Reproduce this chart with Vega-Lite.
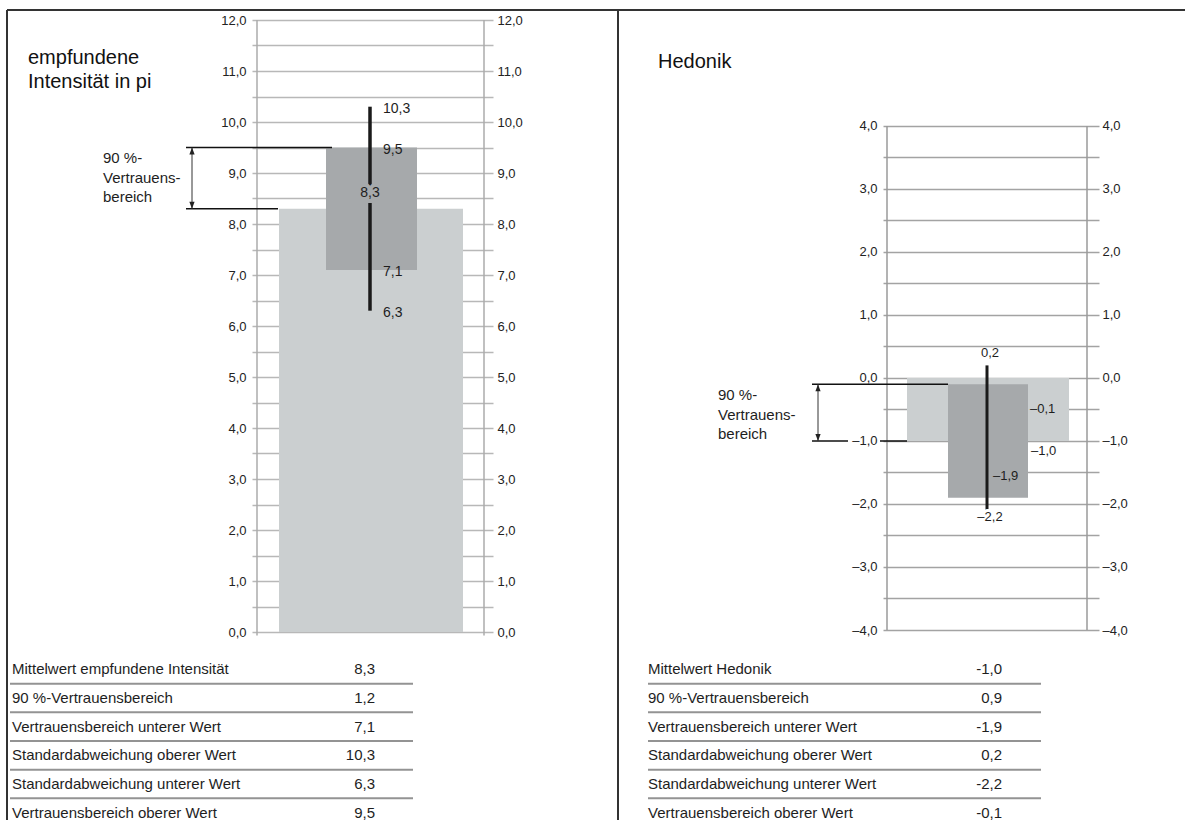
{
  "$schema": "https://vega.github.io/schema/vega-lite/v6.json",
  "background": "white",
  "padding": {"left": 6, "top": 9, "right": 0, "bottom": 0},
  "autosize": {"type": "pad"},
  "config": {
    "font": "Liberation Sans",
    "view": {"stroke": null},
    "locale": {"number": {"decimal": ",", "thousands": ".", "grouping": [3], "currency": ["", " €"], "minus": "–"}},
    "text": {"font": "Liberation Sans", "color": "#1e1e1e"}
  },
  "datasets": {
    "intensitaet": [
      {"nr": 1, "key": "mw", "kennwert": "Mittelwert empfundene Intensität", "wert": 8.3},
      {"nr": 2, "key": "vb", "kennwert": "90 %-Vertrauensbereich", "wert": 1.2},
      {"nr": 3, "key": "vbu", "kennwert": "Vertrauensbereich unterer Wert", "wert": 7.1},
      {"nr": 4, "key": "sdo", "kennwert": "Standardabweichung oberer Wert", "wert": 10.3},
      {"nr": 5, "key": "sdu", "kennwert": "Standardabweichung unterer Wert", "wert": 6.3},
      {"nr": 6, "key": "vbo", "kennwert": "Vertrauensbereich oberer Wert", "wert": 9.5}
    ],
    "hedonik": [
      {"nr": 1, "key": "mw", "kennwert": "Mittelwert Hedonik", "wert": -1.0},
      {"nr": 2, "key": "vb", "kennwert": "90 %-Vertrauensbereich", "wert": 0.9},
      {"nr": 3, "key": "vbu", "kennwert": "Vertrauensbereich unterer Wert", "wert": -1.9},
      {"nr": 4, "key": "sdo", "kennwert": "Standardabweichung oberer Wert", "wert": 0.2},
      {"nr": 5, "key": "sdu", "kennwert": "Standardabweichung unterer Wert", "wert": -2.2},
      {"nr": 6, "key": "vbo", "kennwert": "Vertrauensbereich oberer Wert", "wert": -0.1}
    ]
  },
  "columns": 2,
  "bounds": "flush",
  "align": "each",
  "spacing": {"row": 23, "column": 390},
  "resolve": {"scale": {"x": "independent", "y": "independent"}},
  "concat": [
    {
      "width": 241,
      "height": 612,
      "resolve": {"axis": {"y": "independent"}},
      "layer": [
        {
          "data": {"name": "intensitaet"},
          "transform": [{"pivot": "key", "value": "wert"}],
          "mark": {"type": "rect", "color": "#cbcfd0"},
          "encoding": {
            "x": {"datum": -0.91, "type": "quantitative", "scale": {"domain": [-1.18, 1.23], "nice": false, "zero": false}, "axis": null},
            "x2": {"datum": 0.93},
            "y": {"field": "mw", "type": "quantitative", "scale": {"domain": [0, 12], "nice": false, "zero": false},
              "axis": {"orient": "left", "title": null, "values": [0, 0.5, 1, 1.5, 2, 2.5, 3, 3.5, 4, 4.5, 5, 5.5, 6, 6.5, 7, 7.5, 8, 8.5, 9, 9.5, 10, 10.5, 11, 11.5, 12],
                "format": ".1f", "labelExpr": "datum.value % 1 === 0 ? datum.label : ''", "grid": true, "gridColor": "#b8b8b8", "gridWidth": 1.3,
                "domain": false, "ticks": false, "tickSize": 0, "labelPadding": 6, "labelFontSize": 13, "labelColor": "#222", "labelFont": "Liberation Sans", "labelOverlap": false}},
            "y2": {"datum": 0}
          }
        },
        {
          "data": {"name": "intensitaet"},
          "transform": [{"pivot": "key", "value": "wert"}],
          "mark": {"type": "rect", "color": "#a6a9ab"},
          "encoding": {
            "x": {"datum": -0.44, "type": "quantitative", "scale": {"domain": [-1.18, 1.23], "nice": false, "zero": false}, "axis": null},
            "x2": {"datum": 0.47},
            "y": {"field": "vbo", "type": "quantitative", "scale": {"domain": [0, 12], "nice": false, "zero": false},
              "axis": {"orient": "right", "title": null, "values": [0, 0.5, 1, 1.5, 2, 2.5, 3, 3.5, 4, 4.5, 5, 5.5, 6, 6.5, 7, 7.5, 8, 8.5, 9, 9.5, 10, 10.5, 11, 11.5, 12],
                "format": ".1f", "labelExpr": "datum.value % 1 === 0 ? datum.label : ''", "grid": false,
                "domain": false, "ticks": false, "tickSize": 0, "labelPadding": 4, "labelFontSize": 13, "labelColor": "#222", "labelFont": "Liberation Sans", "labelOverlap": false}},
            "y2": {"field": "vbu"}
          }
        },
        {
          "data": {"values": [{}]},
          "mark": {"type": "rule", "color": "#ababab", "strokeWidth": 1.5},
          "encoding": {
            "x": {"datum": -1.13, "type": "quantitative", "scale": {"domain": [-1.18, 1.23], "nice": false, "zero": false}, "axis": null},
            "y": {"datum": 12, "type": "quantitative", "scale": {"domain": [0, 12], "nice": false, "zero": false}, "axis": null},
            "y2": {"datum": -0.07}
          }
        },
        {
          "data": {"values": [{}]},
          "mark": {"type": "rule", "color": "#ababab", "strokeWidth": 1.5},
          "encoding": {
            "x": {"datum": 1.14, "type": "quantitative", "scale": {"domain": [-1.18, 1.23], "nice": false, "zero": false}, "axis": null},
            "y": {"datum": 12, "type": "quantitative", "scale": {"domain": [0, 12], "nice": false, "zero": false}, "axis": null},
            "y2": {"datum": -0.07}
          }
        },
        {
          "data": {"name": "intensitaet"},
          "transform": [{"pivot": "key", "value": "wert"}],
          "mark": {"type": "rule", "color": "#1a1a1a", "strokeWidth": 3.5},
          "encoding": {
            "x": {"datum": 0, "type": "quantitative", "scale": {"domain": [-1.18, 1.23], "nice": false, "zero": false}, "axis": null},
            "y": {"field": "sdo", "type": "quantitative", "scale": {"domain": [0, 12], "nice": false, "zero": false}, "axis": null},
            "y2": {"field": "sdu"}
          }
        },
        {
          "data": {"name": "intensitaet"},
          "transform": [{"filter": {"field": "key", "oneOf": ["sdo", "vbo", "vbu", "sdu"]}}],
          "mark": {"type": "text", "align": "left", "baseline": "middle", "fontSize": 14, "dy": 2},
          "encoding": {
            "x": {"datum": 0.13, "type": "quantitative", "scale": {"domain": [-1.18, 1.23], "nice": false, "zero": false}, "axis": null},
            "y": {"field": "wert", "type": "quantitative", "scale": {"domain": [0, 12], "nice": false, "zero": false}, "axis": null},
            "text": {"field": "wert", "type": "quantitative", "format": ".1f"}
          }
        },
        {
          "data": {"name": "intensitaet"},
          "transform": [{"filter": {"field": "key", "equal": "mw"}}],
          "mark": {"type": "text", "align": "center", "baseline": "middle", "fontSize": 14, "dy": -16, "fill": "#a6a9ab", "stroke": "#a6a9ab", "strokeWidth": 8},
          "encoding": {
            "x": {"datum": 0, "type": "quantitative", "scale": {"domain": [-1.18, 1.23], "nice": false, "zero": false}, "axis": null},
            "y": {"field": "wert", "type": "quantitative", "scale": {"domain": [0, 12], "nice": false, "zero": false}, "axis": null},
            "text": {"field": "wert", "type": "quantitative", "format": ".1f"}
          }
        },
        {
          "data": {"name": "intensitaet"},
          "transform": [{"filter": {"field": "key", "equal": "mw"}}],
          "mark": {"type": "text", "align": "center", "baseline": "middle", "fontSize": 14, "dy": -16},
          "encoding": {
            "x": {"datum": 0, "type": "quantitative", "scale": {"domain": [-1.18, 1.23], "nice": false, "zero": false}, "axis": null},
            "y": {"field": "wert", "type": "quantitative", "scale": {"domain": [0, 12], "nice": false, "zero": false}, "axis": null},
            "text": {"field": "wert", "type": "quantitative", "format": ".1f"}
          }
        },
        {
          "data": {"name": "intensitaet"},
          "transform": [{"pivot": "key", "value": "wert"}],
          "mark": {"type": "rule", "color": "#111", "strokeWidth": 1.5},
          "encoding": {
            "x": {"datum": -1.84, "type": "quantitative", "scale": {"domain": [-1.18, 1.23], "nice": false, "zero": false}, "axis": null},
            "x2": {"datum": -0.38},
            "y": {"field": "vbo", "type": "quantitative", "scale": {"domain": [0, 12], "nice": false, "zero": false}, "axis": null}
          }
        },
        {
          "data": {"name": "intensitaet"},
          "transform": [{"pivot": "key", "value": "wert"}],
          "mark": {"type": "rule", "color": "#111", "strokeWidth": 1.5},
          "encoding": {
            "x": {"datum": -1.84, "type": "quantitative", "scale": {"domain": [-1.18, 1.23], "nice": false, "zero": false}, "axis": null},
            "x2": {"datum": -0.92},
            "y": {"field": "mw", "type": "quantitative", "scale": {"domain": [0, 12], "nice": false, "zero": false}, "axis": null}
          }
        },
        {
          "data": {"name": "intensitaet"},
          "transform": [{"pivot": "key", "value": "wert"}],
          "mark": {"type": "rule", "color": "#333", "strokeWidth": 1},
          "encoding": {
            "x": {"datum": -1.78, "type": "quantitative", "scale": {"domain": [-1.18, 1.23], "nice": false, "zero": false}, "axis": null},
            "y": {"field": "vbo", "type": "quantitative", "scale": {"domain": [0, 12], "nice": false, "zero": false}, "axis": null},
            "y2": {"field": "mw"}
          }
        },
        {
          "data": {"name": "intensitaet"},
          "transform": [{"pivot": "key", "value": "wert"}],
          "mark": {"type": "point", "filled": true, "color": "#222", "opacity": 1, "size": 136, "strokeWidth": 0, "shape": "M0,0L-0.45,1.2L0.45,1.2Z"},
          "encoding": {
            "x": {"datum": -1.78, "type": "quantitative", "scale": {"domain": [-1.18, 1.23], "nice": false, "zero": false}, "axis": null},
            "y": {"field": "vbo", "type": "quantitative", "scale": {"domain": [0, 12], "nice": false, "zero": false}, "axis": null}
          }
        },
        {
          "data": {"name": "intensitaet"},
          "transform": [{"pivot": "key", "value": "wert"}],
          "mark": {"type": "point", "filled": true, "color": "#222", "opacity": 1, "size": 136, "strokeWidth": 0, "shape": "M0,0L-0.45,-1.2L0.45,-1.2Z"},
          "encoding": {
            "x": {"datum": -1.78, "type": "quantitative", "scale": {"domain": [-1.18, 1.23], "nice": false, "zero": false}, "axis": null},
            "y": {"field": "mw", "type": "quantitative", "scale": {"domain": [0, 12], "nice": false, "zero": false}, "axis": null}
          }
        },
        {
          "data": {"values": [{}]},
          "mark": {"type": "text", "align": "left", "baseline": "middle", "fontSize": 15, "lineHeight": 19.5, "text": ["90 %-", "Vertrauens-", "bereich"]},
          "encoding": {
            "x": {"datum": -2.67, "type": "quantitative", "scale": {"domain": [-1.18, 1.23], "nice": false, "zero": false}, "axis": null},
            "y": {"datum": 9.29, "type": "quantitative", "scale": {"domain": [0, 12], "nice": false, "zero": false}, "axis": null}
          }
        },
        {
          "data": {"values": [{}]},
          "mark": {"type": "text", "align": "left", "baseline": "middle", "fontSize": 20, "lineHeight": 24, "color": "#111", "text": ["empfundene", "Intensität in pi"]},
          "encoding": {
            "x": {"datum": -3.42, "type": "quantitative", "scale": {"domain": [-1.18, 1.23], "nice": false, "zero": false}, "axis": null},
            "y": {"datum": 11.26, "type": "quantitative", "scale": {"domain": [0, 12], "nice": false, "zero": false}, "axis": null}
          }
        },
        {
          "data": {"values": [{}]},
          "mark": {"type": "rule", "color": "#333", "strokeWidth": 2},
          "encoding": {
            "x": {"datum": -3.63, "type": "quantitative", "scale": {"domain": [-1.18, 1.23], "nice": false, "zero": false}, "axis": null},
            "x2": {"datum": 2.48},
            "y": {"datum": 12.196, "type": "quantitative", "scale": {"domain": [0, 12], "nice": false, "zero": false}, "axis": null}
          }
        },
        {
          "data": {"values": [{}]},
          "mark": {"type": "rule", "color": "#333", "strokeWidth": 2},
          "encoding": {
            "x": {"datum": -3.63, "type": "quantitative", "scale": {"domain": [-1.18, 1.23], "nice": false, "zero": false}, "axis": null},
            "y": {"datum": 12.196, "type": "quantitative", "scale": {"domain": [0, 12], "nice": false, "zero": false}, "axis": null},
            "y2": {"datum": -3.69}
          }
        },
        {
          "data": {"values": [{}]},
          "mark": {"type": "rule", "color": "#333", "strokeWidth": 2},
          "encoding": {
            "x": {"datum": 2.48, "type": "quantitative", "scale": {"domain": [-1.18, 1.23], "nice": false, "zero": false}, "axis": null},
            "y": {"datum": 12.196, "type": "quantitative", "scale": {"domain": [0, 12], "nice": false, "zero": false}, "axis": null},
            "y2": {"datum": -3.69}
          }
        }
      ]
    },
    {
      "width": 216,
      "height": 610,
      "resolve": {"axis": {"y": "independent"}},
      "layer": [
        {
          "data": {"name": "hedonik"},
          "transform": [{"pivot": "key", "value": "wert"}],
          "mark": {"type": "rect", "color": "#cbcfd0"},
          "encoding": {
            "x": {"datum": -0.8, "type": "quantitative", "scale": {"domain": [-1.04, 1.12], "nice": false, "zero": false}, "axis": null},
            "x2": {"datum": 0.82},
            "y": {"field": "mw", "type": "quantitative", "scale": {"domain": [-4, 5.6825], "nice": false, "zero": false},
              "axis": {"orient": "left", "title": null, "values": [-4, -3.5, -3, -2.5, -2, -1.5, -1, -0.5, 0, 0.5, 1, 1.5, 2, 2.5, 3, 3.5, 4],
                "format": ".1f", "labelExpr": "datum.value % 1 === 0 ? datum.label : ''", "grid": true, "gridColor": "#a3a3a3", "gridWidth": 1.5,
                "domain": false, "ticks": false, "tickSize": 0, "labelPadding": 6, "labelFontSize": 13, "labelColor": "#222", "labelFont": "Liberation Sans", "labelOverlap": false}},
            "y2": {"datum": 0}
          }
        },
        {
          "data": {"name": "hedonik"},
          "transform": [{"pivot": "key", "value": "wert"}],
          "mark": {"type": "rect", "color": "#a6a9ab"},
          "encoding": {
            "x": {"datum": -0.39, "type": "quantitative", "scale": {"domain": [-1.04, 1.12], "nice": false, "zero": false}, "axis": null},
            "x2": {"datum": 0.41},
            "y": {"field": "vbo", "type": "quantitative", "scale": {"domain": [-4, 5.6825], "nice": false, "zero": false},
              "axis": {"orient": "right", "title": null, "values": [-4, -3.5, -3, -2.5, -2, -1.5, -1, -0.5, 0, 0.5, 1, 1.5, 2, 2.5, 3, 3.5, 4],
                "format": ".1f", "labelExpr": "datum.value % 1 === 0 ? datum.label : ''", "grid": false,
                "domain": false, "ticks": false, "tickSize": 0, "labelPadding": 3, "labelFontSize": 13, "labelColor": "#222", "labelFont": "Liberation Sans", "labelOverlap": false}},
            "y2": {"field": "vbu"}
          }
        },
        {
          "data": {"values": [{}]},
          "mark": {"type": "rule", "color": "#9a9a9a", "strokeWidth": 1.5},
          "encoding": {
            "x": {"datum": -1.0, "type": "quantitative", "scale": {"domain": [-1.04, 1.12], "nice": false, "zero": false}, "axis": null},
            "y": {"datum": 4, "type": "quantitative", "scale": {"domain": [-4, 5.6825], "nice": false, "zero": false}, "axis": null},
            "y2": {"datum": -4}
          }
        },
        {
          "data": {"values": [{}]},
          "mark": {"type": "rule", "color": "#9a9a9a", "strokeWidth": 1.5},
          "encoding": {
            "x": {"datum": 1.0, "type": "quantitative", "scale": {"domain": [-1.04, 1.12], "nice": false, "zero": false}, "axis": null},
            "y": {"datum": 4, "type": "quantitative", "scale": {"domain": [-4, 5.6825], "nice": false, "zero": false}, "axis": null},
            "y2": {"datum": -4}
          }
        },
        {
          "data": {"name": "hedonik"},
          "transform": [{"pivot": "key", "value": "wert"}],
          "mark": {"type": "rule", "color": "#1a1a1a", "strokeWidth": 3},
          "encoding": {
            "x": {"datum": 0, "type": "quantitative", "scale": {"domain": [-1.04, 1.12], "nice": false, "zero": false}, "axis": null},
            "y": {"field": "sdo", "type": "quantitative", "scale": {"domain": [-4, 5.6825], "nice": false, "zero": false}, "axis": null},
            "y2": {"field": "sdu"}
          }
        },
        {
          "data": {"name": "hedonik"},
          "transform": [{"filter": {"field": "key", "equal": "sdo"}}],
          "mark": {"type": "text", "align": "center", "baseline": "middle", "fontSize": 13, "dy": -12},
          "encoding": {
            "x": {"datum": 0.03, "type": "quantitative", "scale": {"domain": [-1.04, 1.12], "nice": false, "zero": false}, "axis": null},
            "y": {"field": "wert", "type": "quantitative", "scale": {"domain": [-4, 5.6825], "nice": false, "zero": false}, "axis": null},
            "text": {"field": "wert", "type": "quantitative", "format": ".1f"}
          }
        },
        {
          "data": {"name": "hedonik"},
          "transform": [{"filter": {"field": "key", "equal": "vbo"}}],
          "mark": {"type": "text", "align": "left", "baseline": "middle", "fontSize": 13, "dy": 25},
          "encoding": {
            "x": {"datum": 0.43, "type": "quantitative", "scale": {"domain": [-1.04, 1.12], "nice": false, "zero": false}, "axis": null},
            "y": {"field": "wert", "type": "quantitative", "scale": {"domain": [-4, 5.6825], "nice": false, "zero": false}, "axis": null},
            "text": {"field": "wert", "type": "quantitative", "format": ".1f"}
          }
        },
        {
          "data": {"name": "hedonik"},
          "transform": [{"filter": {"field": "key", "equal": "mw"}}],
          "mark": {"type": "text", "align": "left", "baseline": "middle", "fontSize": 13, "dy": 10},
          "encoding": {
            "x": {"datum": 0.44, "type": "quantitative", "scale": {"domain": [-1.04, 1.12], "nice": false, "zero": false}, "axis": null},
            "y": {"field": "wert", "type": "quantitative", "scale": {"domain": [-4, 5.6825], "nice": false, "zero": false}, "axis": null},
            "text": {"field": "wert", "type": "quantitative", "format": ".1f"}
          }
        },
        {
          "data": {"name": "hedonik"},
          "transform": [{"filter": {"field": "key", "equal": "vbu"}}],
          "mark": {"type": "text", "align": "left", "baseline": "middle", "fontSize": 13, "dy": -22},
          "encoding": {
            "x": {"datum": 0.06, "type": "quantitative", "scale": {"domain": [-1.04, 1.12], "nice": false, "zero": false}, "axis": null},
            "y": {"field": "wert", "type": "quantitative", "scale": {"domain": [-4, 5.6825], "nice": false, "zero": false}, "axis": null},
            "text": {"field": "wert", "type": "quantitative", "format": ".1f"}
          }
        },
        {
          "data": {"name": "hedonik"},
          "transform": [{"filter": {"field": "key", "equal": "sdu"}}],
          "mark": {"type": "text", "align": "center", "baseline": "middle", "fontSize": 13, "fill": "white", "stroke": "white", "strokeWidth": 6},
          "encoding": {
            "x": {"datum": 0.03, "type": "quantitative", "scale": {"domain": [-1.04, 1.12], "nice": false, "zero": false}, "axis": null},
            "y": {"field": "wert", "type": "quantitative", "scale": {"domain": [-4, 5.6825], "nice": false, "zero": false}, "axis": null},
            "text": {"field": "wert", "type": "quantitative", "format": ".1f"}
          }
        },
        {
          "data": {"name": "hedonik"},
          "transform": [{"filter": {"field": "key", "equal": "sdu"}}],
          "mark": {"type": "text", "align": "center", "baseline": "middle", "fontSize": 13},
          "encoding": {
            "x": {"datum": 0.03, "type": "quantitative", "scale": {"domain": [-1.04, 1.12], "nice": false, "zero": false}, "axis": null},
            "y": {"field": "wert", "type": "quantitative", "scale": {"domain": [-4, 5.6825], "nice": false, "zero": false}, "axis": null},
            "text": {"field": "wert", "type": "quantitative", "format": ".1f"}
          }
        },
        {
          "data": {"name": "hedonik"},
          "transform": [{"pivot": "key", "value": "wert"}],
          "mark": {"type": "rule", "color": "#111", "strokeWidth": 1.5},
          "encoding": {
            "x": {"datum": -1.75, "type": "quantitative", "scale": {"domain": [-1.04, 1.12], "nice": false, "zero": false}, "axis": null},
            "x2": {"datum": -0.39},
            "y": {"field": "vbo", "type": "quantitative", "scale": {"domain": [-4, 5.6825], "nice": false, "zero": false}, "axis": null}
          }
        },
        {
          "data": {"name": "hedonik"},
          "transform": [{"pivot": "key", "value": "wert"}],
          "mark": {"type": "rule", "color": "#111", "strokeWidth": 1.5},
          "encoding": {
            "x": {"datum": -1.75, "type": "quantitative", "scale": {"domain": [-1.04, 1.12], "nice": false, "zero": false}, "axis": null},
            "x2": {"datum": -1.39},
            "y": {"field": "mw", "type": "quantitative", "scale": {"domain": [-4, 5.6825], "nice": false, "zero": false}, "axis": null}
          }
        },
        {
          "data": {"name": "hedonik"},
          "transform": [{"pivot": "key", "value": "wert"}],
          "mark": {"type": "rule", "color": "#111", "strokeWidth": 1.5},
          "encoding": {
            "x": {"datum": -1.07, "type": "quantitative", "scale": {"domain": [-1.04, 1.12], "nice": false, "zero": false}, "axis": null},
            "x2": {"datum": -0.8},
            "y": {"field": "mw", "type": "quantitative", "scale": {"domain": [-4, 5.6825], "nice": false, "zero": false}, "axis": null}
          }
        },
        {
          "data": {"name": "hedonik"},
          "transform": [{"pivot": "key", "value": "wert"}],
          "mark": {"type": "rule", "color": "#333", "strokeWidth": 1},
          "encoding": {
            "x": {"datum": -1.69, "type": "quantitative", "scale": {"domain": [-1.04, 1.12], "nice": false, "zero": false}, "axis": null},
            "y": {"field": "vbo", "type": "quantitative", "scale": {"domain": [-4, 5.6825], "nice": false, "zero": false}, "axis": null},
            "y2": {"field": "mw"}
          }
        },
        {
          "data": {"name": "hedonik"},
          "transform": [{"pivot": "key", "value": "wert"}],
          "mark": {"type": "point", "filled": true, "color": "#222", "opacity": 1, "size": 136, "strokeWidth": 0, "shape": "M0,0L-0.45,1.2L0.45,1.2Z"},
          "encoding": {
            "x": {"datum": -1.69, "type": "quantitative", "scale": {"domain": [-1.04, 1.12], "nice": false, "zero": false}, "axis": null},
            "y": {"field": "vbo", "type": "quantitative", "scale": {"domain": [-4, 5.6825], "nice": false, "zero": false}, "axis": null}
          }
        },
        {
          "data": {"name": "hedonik"},
          "transform": [{"pivot": "key", "value": "wert"}],
          "mark": {"type": "point", "filled": true, "color": "#222", "opacity": 1, "size": 136, "strokeWidth": 0, "shape": "M0,0L-0.45,-1.2L0.45,-1.2Z"},
          "encoding": {
            "x": {"datum": -1.69, "type": "quantitative", "scale": {"domain": [-1.04, 1.12], "nice": false, "zero": false}, "axis": null},
            "y": {"field": "mw", "type": "quantitative", "scale": {"domain": [-4, 5.6825], "nice": false, "zero": false}, "axis": null}
          }
        },
        {
          "data": {"values": [{}]},
          "mark": {"type": "text", "align": "left", "baseline": "middle", "fontSize": 15, "lineHeight": 19.5, "text": ["90 %-", "Vertrauens-", "bereich"]},
          "encoding": {
            "x": {"datum": -2.69, "type": "quantitative", "scale": {"domain": [-1.04, 1.12], "nice": false, "zero": false}, "axis": null},
            "y": {"datum": -0.27, "type": "quantitative", "scale": {"domain": [-4, 5.6825], "nice": false, "zero": false}, "axis": null}
          }
        },
        {
          "data": {"values": [{}]},
          "mark": {"type": "text", "align": "left", "baseline": "middle", "fontSize": 20, "color": "#111", "text": "Hedonik"},
          "encoding": {
            "x": {"datum": -3.29, "type": "quantitative", "scale": {"domain": [-1.04, 1.12], "nice": false, "zero": false}, "axis": null},
            "y": {"datum": 5.016, "type": "quantitative", "scale": {"domain": [-4, 5.6825], "nice": false, "zero": false}, "axis": null}
          }
        },
        {
          "data": {"values": [{}]},
          "mark": {"type": "rule", "color": "#333", "strokeWidth": 2},
          "encoding": {
            "x": {"datum": -3.69, "type": "quantitative", "scale": {"domain": [-1.04, 1.12], "nice": false, "zero": false}, "axis": null},
            "x2": {"datum": 1.98},
            "y": {"datum": 5.841, "type": "quantitative", "scale": {"domain": [-4, 5.6825], "nice": false, "zero": false}, "axis": null}
          }
        }
      ]
    },
    {
      "width": 241,
      "height": 172,
      "data": {"name": "intensitaet"},
      "transform": [{"calculate": "replace(format(datum.wert, '.1f'), '–', '-')", "as": "anzeige"}],
      "layer": [
        {
          "mark": {"type": "text", "align": "left", "baseline": "middle", "fontSize": 15},
          "encoding": {
            "x": {"datum": -3.58, "type": "quantitative", "scale": {"domain": [-1.18, 1.23], "nice": false, "zero": false}, "axis": null},
            "y": {"field": "nr", "type": "ordinal", "scale": {"type": "band", "paddingInner": 0, "paddingOuter": 0}, "axis": null},
            "text": {"field": "kennwert"}
          }
        },
        {
          "mark": {"type": "text", "align": "right", "baseline": "middle", "fontSize": 15},
          "encoding": {
            "x": {"datum": 0.05, "type": "quantitative", "scale": {"domain": [-1.18, 1.23], "nice": false, "zero": false}, "axis": null},
            "y": {"field": "nr", "type": "ordinal", "scale": {"type": "band", "paddingInner": 0, "paddingOuter": 0}, "axis": null},
            "text": {"field": "anzeige"}
          }
        },
        {
          "transform": [{"filter": "datum.nr < 6"}],
          "mark": {"type": "rule", "color": "#939393", "strokeWidth": 2},
          "encoding": {
            "x": {"datum": -3.6, "type": "quantitative", "scale": {"domain": [-1.18, 1.23], "nice": false, "zero": false}, "axis": null},
            "x2": {"datum": 0.43},
            "y": {"field": "nr", "type": "ordinal", "bandPosition": 1, "scale": {"type": "band", "paddingInner": 0, "paddingOuter": 0}, "axis": null}
          }
        }
      ]
    },
    {
      "width": 216,
      "height": 172,
      "data": {"name": "hedonik"},
      "transform": [{"calculate": "replace(format(datum.wert, '.1f'), '–', '-')", "as": "anzeige"}],
      "layer": [
        {
          "mark": {"type": "text", "align": "left", "baseline": "middle", "fontSize": 15},
          "encoding": {
            "x": {"datum": -3.39, "type": "quantitative", "scale": {"domain": [-1.04, 1.12], "nice": false, "zero": false}, "axis": null},
            "y": {"field": "nr", "type": "ordinal", "scale": {"type": "band", "paddingInner": 0, "paddingOuter": 0}, "axis": null},
            "text": {"field": "kennwert"}
          }
        },
        {
          "mark": {"type": "text", "align": "right", "baseline": "middle", "fontSize": 15},
          "encoding": {
            "x": {"datum": 0.15, "type": "quantitative", "scale": {"domain": [-1.04, 1.12], "nice": false, "zero": false}, "axis": null},
            "y": {"field": "nr", "type": "ordinal", "scale": {"type": "band", "paddingInner": 0, "paddingOuter": 0}, "axis": null},
            "text": {"field": "anzeige"}
          }
        },
        {
          "transform": [{"filter": "datum.nr < 6"}],
          "mark": {"type": "rule", "color": "#939393", "strokeWidth": 2},
          "encoding": {
            "x": {"datum": -3.39, "type": "quantitative", "scale": {"domain": [-1.04, 1.12], "nice": false, "zero": false}, "axis": null},
            "x2": {"datum": 0.54},
            "y": {"field": "nr", "type": "ordinal", "bandPosition": 1, "scale": {"type": "band", "paddingInner": 0, "paddingOuter": 0}, "axis": null}
          }
        }
      ]
    }
  ]
}
